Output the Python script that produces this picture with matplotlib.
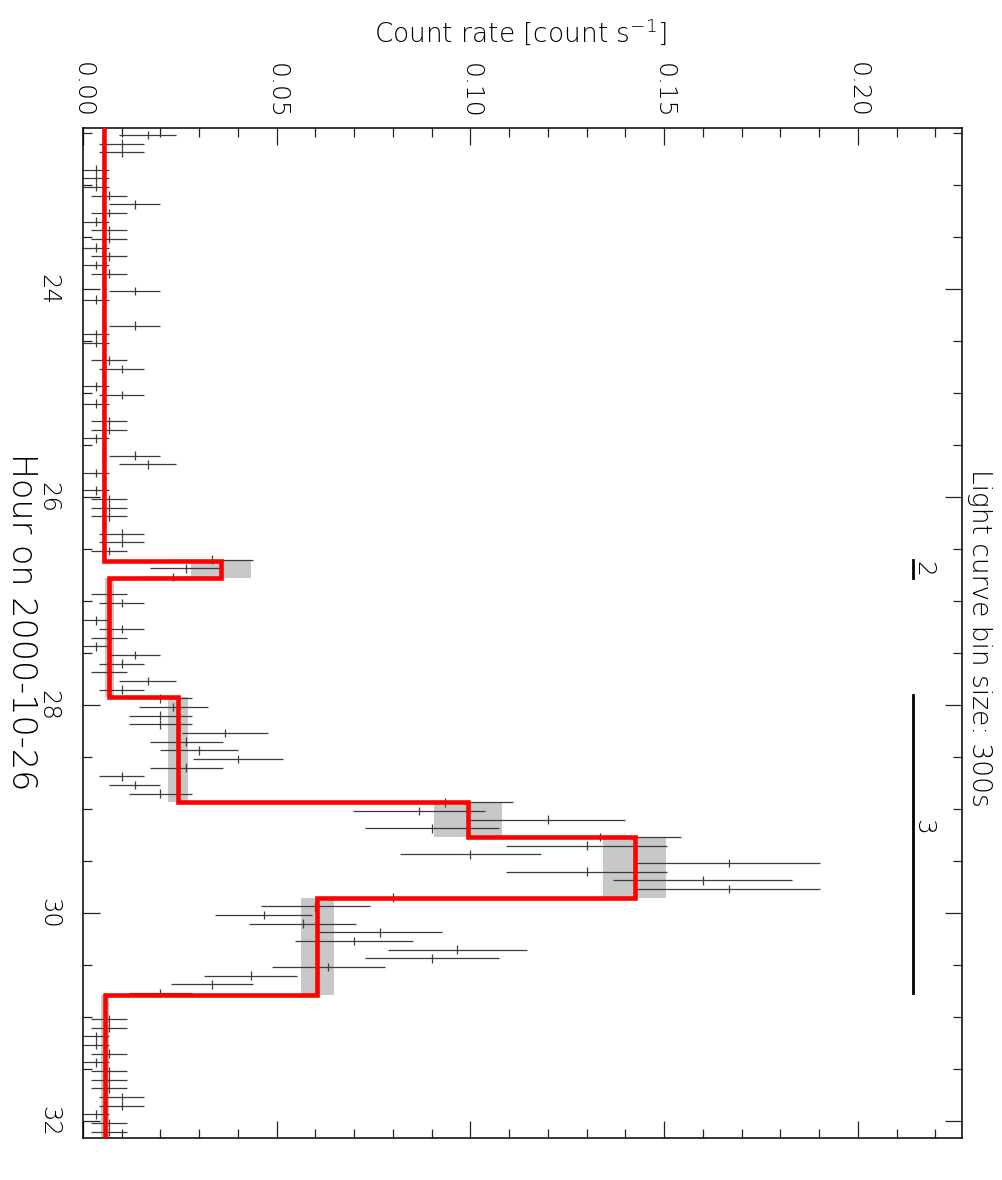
import numpy as np
import matplotlib.pyplot as plt
from matplotlib.ticker import MultipleLocator, FormatStrFormatter

plt.rcParams['font.family'] = ['DejaVu Sans']
plt.rcParams['font.weight'] = 200

# light curve, 300 s bins, counts per bin
bin_size = 300.0          # s
t_first = 22.519          # centre of first bin [hour on 2000-10-26]
counts = [5, 3, 3, 0, 1, 1, 1, 2, 4, 2,
          1, 2, 2, 1, 2, 1, 2, 0, 4, 1,
          0, 0, 4, 1, 1, 0, 2, 3, 0, 1,
          3, 1, 0, 2, 2, 1, 0, 4, 5, 1,
          0, 1, 2, 2, 2, 0, 3, 3, 2, 10,
          8, 7, 0, 2, 3, 0, 1, 3, 2, 1,
          4, 3, 2, 5, 3, 6, 7, 6, 6, 11,
          8, 9, 12, 8, 3, 4, 6, 28, 26, 36,
          27, 40, 39, 30, 50, 39, 48, 50, 24, 18,
          14, 17, 23, 21, 29, 27, 19, 13, 10, 6,
          0, 0, 2, 2, 1, 1, 2, 1, 2, 2,
          2, 3, 3, 1, 2, 2]

# bayesian blocks
block_edges = [22.452, 26.615, 26.779, 27.923, 28.930, 29.269, 29.851, 30.788, 32.163]
block_rate = [0.00543, 0.0357, 0.00672, 0.02455, 0.0993, 0.1424, 0.0605, 0.0057]
block_lo = [0.0049, 0.0279, 0.0057, 0.0220, 0.0905, 0.1342, 0.0564, 0.0046]
block_hi = [0.0060, 0.0434, 0.0080, 0.0272, 0.1082, 0.1506, 0.0647, 0.0067]

# flare intervals
flare_names = ['2', '3']
flare_start = [26.606, 27.899]
flare_stop = [26.779, 30.769]
flare_label_t = [26.69, 29.17]

counts = np.array(counts, dtype=float)
t = t_first + np.arange(len(counts)) * bin_size / 3600.
rate = counts / bin_size
err = np.sqrt(counts) / bin_size
ok = counts > 0

fig = plt.figure(figsize=(10.03, 11.8), dpi=100)
W, H = 1003., 1180.
ax = fig.add_axes([83 / W, 1 - 1138 / H, (962 - 83) / W, (1138 - 128) / H])

for i in range(len(block_rate)):
    ax.fill_betweenx([block_edges[i], block_edges[i + 1]], block_lo[i], block_hi[i],
                     color='#c8c8c8', lw=0, zorder=1)

ax.errorbar(rate[ok], t[ok], xerr=err[ok], yerr=bin_size / 7200.,
            fmt='none', ecolor='#3c3c3c', elinewidth=0.9, capsize=0, zorder=2)

xs = np.repeat(block_rate, 2)
ys = np.repeat(block_edges, 2)[1:-1]
ax.plot(xs, ys, color='red', lw=3.3, solid_joinstyle='miter', zorder=3)

for name, t0, t1, tl in zip(flare_names, flare_start, flare_stop, flare_label_t):
    ax.plot([0.2142, 0.2142], [t0, t1], color='black', lw=2, zorder=3)
    ax.text(0.2168, tl, name, rotation=-90, ha='center', va='center', fontsize=18)

ax.set_xlim(0, 0.2269)
ax.set_ylim(32.163, 22.452)

ax.xaxis.set_major_locator(MultipleLocator(0.05))
ax.xaxis.set_minor_locator(MultipleLocator(0.01))
ax.xaxis.set_major_formatter(FormatStrFormatter('%.2f'))
ax.yaxis.set_major_locator(MultipleLocator(2))
ax.yaxis.set_minor_locator(MultipleLocator(0.5))
ax.yaxis.set_major_formatter(FormatStrFormatter('%d'))

ax.tick_params(which='both', direction='in', top=True, right=True, bottom=True, left=True,
               labelbottom=False, labeltop=True, labelleft=True, labelright=False,
               width=0.9, color='#222222')
ax.tick_params(which='major', length=12)
ax.tick_params(which='minor', length=6.5)
ax.tick_params(axis='x', labelsize=18, pad=7, labelrotation=-90)
ax.tick_params(axis='y', labelsize=17.5, pad=16, labelrotation=-90)
for lab in ax.get_yticklabels():
    lab.set_va('center')
for s in ax.spines.values():
    s.set_linewidth(1.1)

fig.text(521 / W, 1 - 32 / H, 'Count rate [count s$^{-1}$]', ha='center', va='center', fontsize=19)
fig.text(21 / W, 1 - 622 / H, 'Hour on 2000-10-26', ha='center', va='center',
         rotation=-90, fontsize=24)
fig.text(980 / W, 1 - 638 / H, 'Light curve bin size: 300s', ha='center', va='center',
         rotation=-90, fontsize=19)

fig.savefig('out.png', dpi=100)
